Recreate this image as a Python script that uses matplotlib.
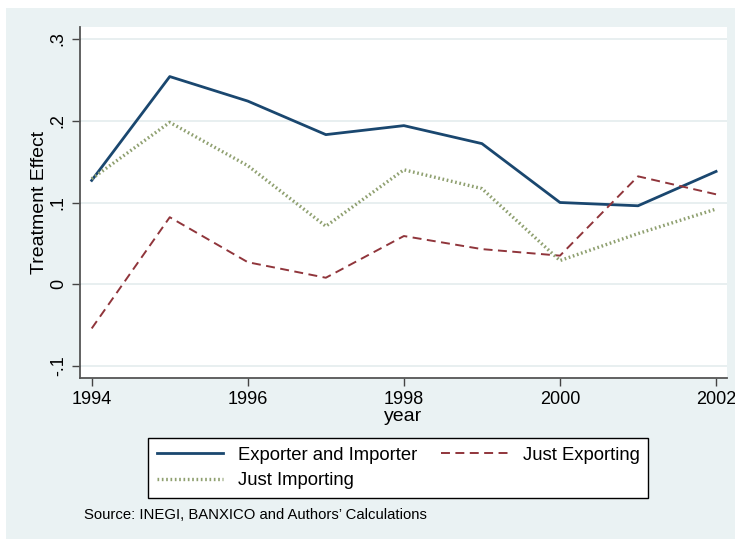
import matplotlib
matplotlib.use("Agg")
from matplotlib import pyplot as plt
from matplotlib.patches import Rectangle

years = [1994, 1995, 1996, 1997, 1998, 1999, 2000, 2001, 2002]
exp_and_imp = [0.127, 0.254, 0.224, 0.183, 0.194, 0.172, 0.100, 0.096, 0.138]
just_exp = [-0.054, 0.082, 0.027, 0.008, 0.059, 0.043, 0.035, 0.132, 0.110]
just_imp = [0.129, 0.198, 0.145, 0.071, 0.140, 0.117, 0.029, 0.062, 0.092]

y_ticks = [-0.1, 0, 0.1, 0.2, 0.3]
y_tick_labels = ["-.1", "0", ".1", ".2", ".3"]
x_ticks = [1994, 1996, 1998, 2000, 2002]

plt.rcParams["font.family"] = ["Liberation Sans", "DejaVu Sans"]

W, H = 735, 539
fig = plt.figure(figsize=(W / 100, H / 100), dpi=100)
fig.patch.set_facecolor("white")
fig.patches.append(Rectangle((6 / W, 0), 1, (H - 8) / H, transform=fig.transFigure,
                             facecolor="#eaf2f3", edgecolor="none", zorder=-10))

ax = fig.add_axes([80 / W, 1 - 378 / H, (727 - 80) / W, (378 - 27) / H])
ax.set_zorder(5)
ax.set_facecolor("white")

l1, = ax.plot(years, exp_and_imp, color="#1a476f", lw=2.0, label="Exporter and Importer")
l2, = ax.plot(years, just_exp, color="#90353b", lw=1.4, dashes=(4.6, 2.8), label="Just Exporting")
l3, = ax.plot(years, just_imp, color="#8fa070", lw=2.4, dashes=(0.5, 0.8), label="Just Importing")

ax.set_xlim(1993.85, 2002.14)
ax.set_ylim(-0.1146, 0.3146)
ax.set_yticks(y_ticks)
ax.set_yticklabels(y_tick_labels, rotation=90, va="center")
ax.set_xticks(x_ticks)
ax.tick_params(labelsize=13, color="#444444", length=6, width=1)
ax.grid(axis="y", color="#e4ecee", lw=1.2)
ax.set_axisbelow(True)
for s in ["top", "right"]:
    ax.spines[s].set_visible(False)
for s in ["left", "bottom"]:
    ax.spines[s].set_color("#555555")
    ax.spines[s].set_linewidth(1.3)

ax.set_xlabel("year", fontsize=14, labelpad=0)
ax.set_ylabel("Treatment Effect", fontsize=14, labelpad=1)

# column-first fill, so order gives rows: [EI, JE] / [JI]
leg = fig.legend(handles=[l1, l3, l2], ncol=2, loc="upper left",
                 bbox_to_anchor=(148 / W, 1 - 438 / H),
                 fontsize=13.3, frameon=True, fancybox=False, framealpha=1,
                 edgecolor="black", handlelength=3.6, handletextpad=0.8,
                 columnspacing=1.3, borderpad=0.48, borderaxespad=0, labelspacing=0.45)
leg.get_frame().set_linewidth(1.0)

fig.text(84 / W, 1 - 515 / H, "Source: INEGI, BANXICO and Authors\u2019 Calculations",
         fontsize=10.7, va="center", ha="left")

fig.savefig("out.png", dpi=100)
